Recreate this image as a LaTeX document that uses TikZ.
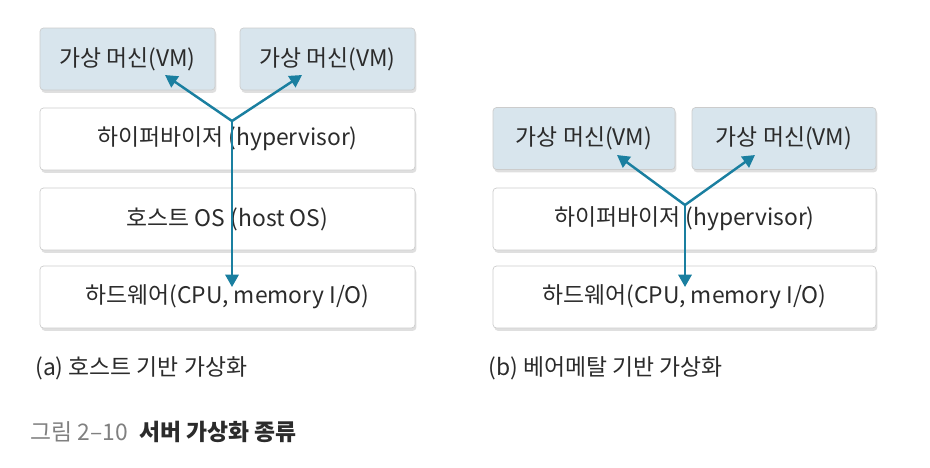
\documentclass[tikz,border=0pt]{standalone}
\usepackage{fontspec}
\setmainfont{Noto Sans CJK KR}
\usetikzlibrary{shadows,arrows.meta}
\definecolor{vmblue}{HTML}{D8E5ED}
\definecolor{linkblue}{HTML}{1A7FA0}
\definecolor{txt}{HTML}{2B2B2B}

\begin{document}
\begin{tikzpicture}[font=\fontsize{13}{15}\selectfont,text=txt]
\tikzstyle{layer}=[rectangle,rounded corners=2pt,draw=gray!40,fill=white,minimum height=1.24cm,minimum width=#1,inner sep=0pt,drop shadow={shadow xshift=0.8pt,shadow yshift=-1.6pt,fill=gray!50}]
\tikzstyle{vm}=[layer=#1,fill=vmblue]
\tikzstyle{link}=[draw=linkblue,line width=1.4pt,-{Triangle[length=7pt,width=7.5pt]}]
\tikzstyle{caption}=[anchor=west,inner sep=0pt]
\useasboundingbox (0,0) rectangle (18.6,-9.34);

% (a) host based
\node[vm=3.5cm](vmA1) at (2.55,-1.18) {가상 머신(VM)};
\node[vm=3.5cm](vmA2) at (6.55,-1.18) {가상 머신(VM)};
\node[layer=7.5cm](hypA) at (4.55,-2.78) {하이퍼바이저 (hypervisor)};
\node[layer=7.5cm](osA) at (4.55,-4.38) {호스트 OS (host OS)};
\node[layer=7.5cm](hwA) at (4.55,-5.94) {하드웨어(CPU, memory I/O)};

\coordinate (jA) at (4.64,-2.42);
\coordinate (tA1) at (3.3,-1.5);
\coordinate (tA2) at (6.04,-1.5);
\coordinate (tA3) at (4.64,-5.74);
\draw[link] (jA) -- (tA1);
\draw[link] (jA) -- (tA2);
\draw[link] (jA) -- (tA3);

% (b) bare metal
\node[vm=3.64cm](vmB1) at (11.68,-2.77) {가상 머신(VM)};
\node[vm=3.68cm](vmB2) at (15.68,-2.77) {가상 머신(VM)};
\node[layer=7.66cm](hypB) at (13.69,-4.38) {하이퍼바이저 (hypervisor)};
\node[layer=7.66cm](hwB) at (13.69,-5.94) {하드웨어(CPU, memory I/O)};

\coordinate (jB) at (13.7,-4.1);
\coordinate (tB1) at (12.34,-3.1);
\coordinate (tB2) at (15.1,-3.1);
\coordinate (tB3) at (13.7,-5.74);
\draw[link] (jB) -- (tB1);
\draw[link] (jB) -- (tB2);
\draw[link] (jB) -- (tB3);

\node[caption](capA) at (0.7,-7.36) {(a) 호스트 기반 가상화};
\node[caption](capB) at (9.76,-7.36) {(b) 베어메탈 기반 가상화};
\node[caption](title) at (0.6,-8.64) {\textcolor{gray}{그림 2–10}\hspace{0.5em}\textbf{서버 가상화 종류}};
\end{tikzpicture}
\end{document}
